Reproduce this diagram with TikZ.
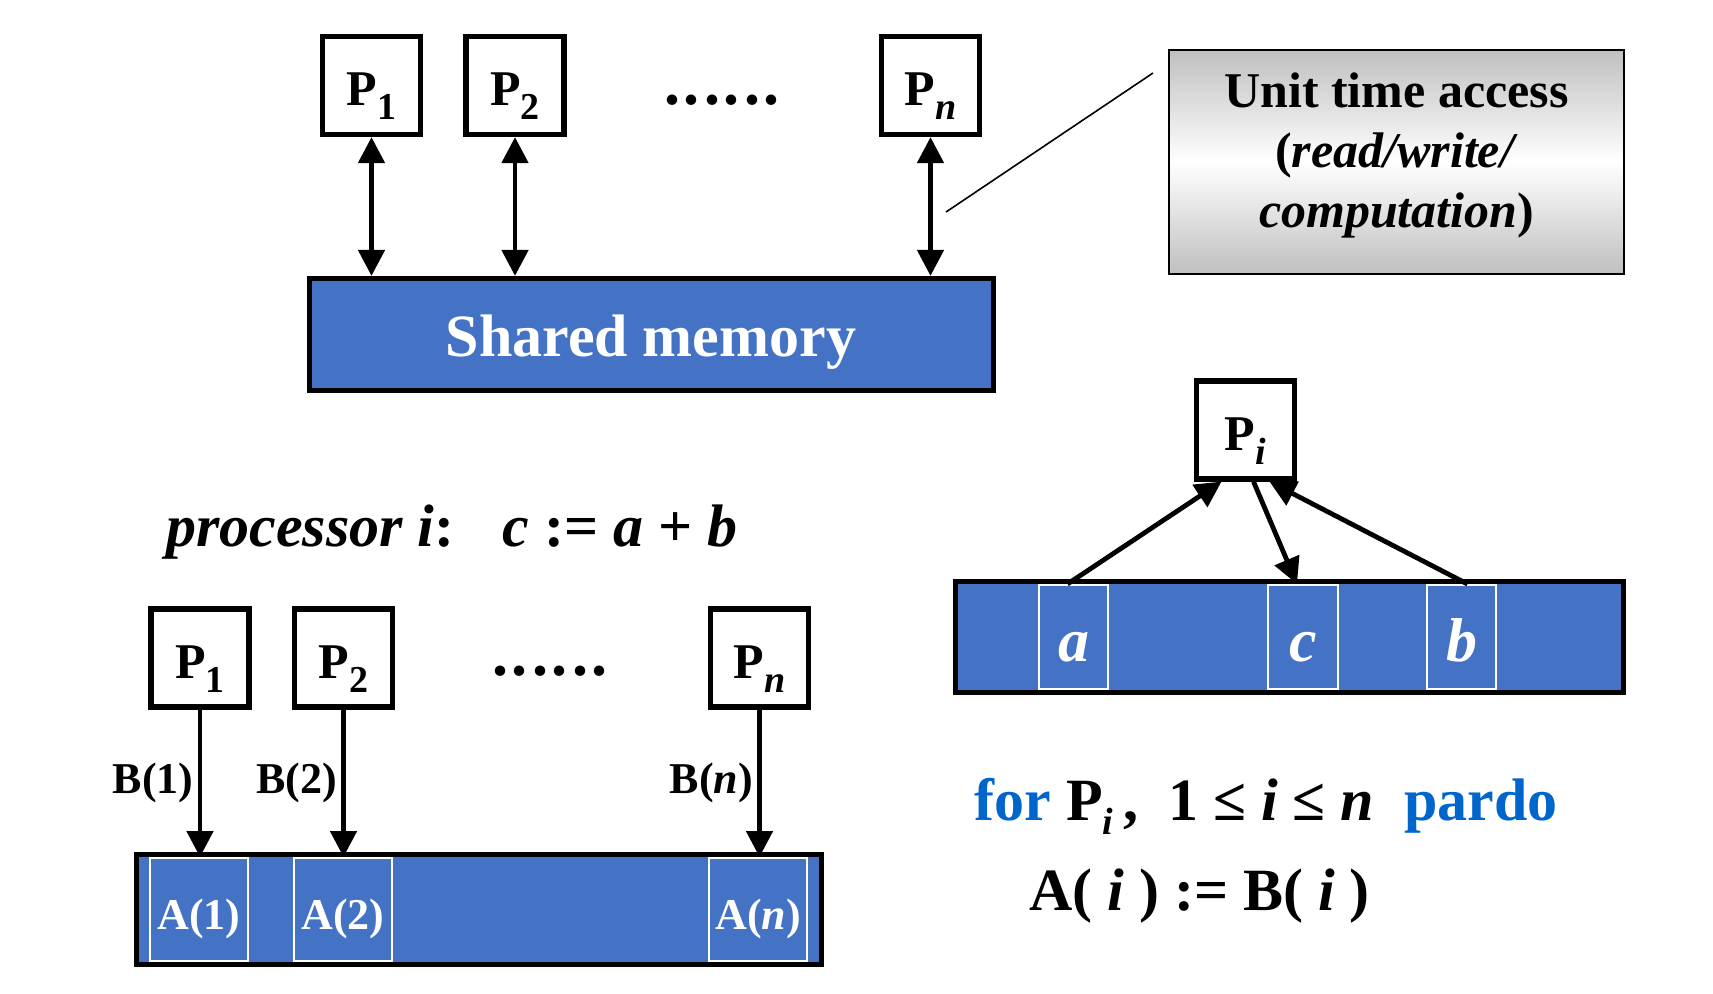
\documentclass[tikz,border=0pt]{standalone}
\usepackage{fontspec}
\setmainfont{Liberation Serif}
\usetikzlibrary{arrows.meta,calc}
\definecolor{memblue}{HTML}{4472C4}
\definecolor{kwblue}{HTML}{0066CC}
\newcommand\psub[1]{\raisebox{-7pt}{\fontsize{19}{19}\selectfont #1}}
\newcommand\dotrow{.\kern2pt.\kern2pt.\kern2pt.\kern2pt.\kern2pt.}
\begin{document}
\begin{tikzpicture}[x=0.5pt,y=-0.5pt,
  pbox/.style={draw, line width=2.6pt, fill=white, minimum width=49pt, minimum height=49pt, inner sep=0pt, font=\fontsize{25}{25}\selectfont\bfseries, text height=20pt, text depth=0pt},
  membar/.style={draw, line width=2.6pt, fill=memblue, inner sep=0pt},
  cellbox/.style={draw=white, line width=1pt, fill=memblue, inner sep=0pt, text=white},
  dblarr/.style={line width=2.4pt, {Triangle[length=13pt,width=13pt]}-{Triangle[length=13pt,width=13pt]}},
  onearr/.style={line width=2.4pt, -{Triangle[length=13pt,width=13pt]}},
  bigtxt/.style={font=\fontsize{30}{30}\selectfont\bfseries, inner sep=0pt},
  lbltxt/.style={font=\fontsize{22}{22}\selectfont\bfseries},
]
\useasboundingbox (0,0) rectangle (1713,993);

% ---------- top part ----------
\node[pbox] (tp1) at (371.5,85.5) {P\psub{1}};
\node[pbox] (tp2) at (515,85.5) {P\psub{2}};
\node[pbox] (tpn) at (930.5,85.5) {P\psub{\itshape n}};
\node[font=\fontsize{32}{32}\selectfont\bfseries, anchor=base] (tdots) at (722,104) {\dotrow};
\node[membar, minimum width=342pt, minimum height=56pt] (mem) at (651.5,334.5) {};
\node[bigtxt, text=white, anchor=base] (memtxt) at (651,356) {Shared memory};
\draw[dblarr] (tp1.south) -- (tp1.south |- mem.north);
\draw[dblarr] (tp2.south) -- (tp2.south |- mem.north);
\draw[dblarr] (tpn.south) -- (tpn.south |- mem.north);

% callout
\node[draw, line width=1pt, minimum width=227.5pt, minimum height=112pt, inner sep=0pt,
      top color=gray!50, bottom color=gray!50, middle color=white] (unit) at (1396.5,162) {};
\node[align=center, font=\fontsize{25}{30}\selectfont\bfseries] (unittxt) at (1396.5,155)
  {Unit time access\\(\textit{read/write/}\\\textit{computation})};
\coordinate (cl1) at (946,212);
\coordinate (cl2) at (1153,73);
\draw[line width=0.8pt] (cl1) -- (cl2);

% ---------- processor i ----------
\node[font=\fontsize{30}{30}\selectfont\bfseries, anchor=base] (proc) at (452,546)
  {\textit{processor i}:\hspace{24pt}\textit{c} := \textit{a} + \textit{b}};

% ---------- right: Pi ----------
\node[pbox] (pi) at (1245.5,430) {P\psub{\itshape i}};
\node[membar, minimum width=334pt, minimum height=55.5pt] (rbar) at (1289.5,637) {};
\tikzset{abc/.style={cellbox, minimum height=52pt, font=\fontsize{31}{31}\selectfont\bfseries\itshape, text height=24pt, text depth=0pt}}
\node[abc, minimum width=34.5pt] (ca) at (1073.5,637) {a};
\node[abc, minimum width=35pt] (cc) at (1303,637) {c};
\node[abc, minimum width=34.5pt] (cb) at (1461.5,637) {b};
\draw[onearr] ([xshift=-3pt]ca.north) -- ([xshift=-12pt]pi.south);
\draw[onearr] ([xshift=4pt]pi.south) -- ([xshift=-3pt]cc.north);
\draw[onearr] ([xshift=3pt]cb.north) -- ([xshift=12pt]pi.south);

% ---------- bottom left ----------
\node[pbox] (lp1) at (200,658) {P\psub{1}};
\node[pbox] (lp2) at (343.5,658) {P\psub{2}};
\node[pbox] (lpn) at (759.5,658) {P\psub{\itshape n}};
\node[font=\fontsize{32}{32}\selectfont\bfseries, anchor=base] (ldots) at (550,675) {\dotrow};
\node[membar, minimum width=342.5pt, minimum height=55pt] (lbar) at (479,909.5) {};
\tikzset{acell/.style={cellbox, minimum width=49pt, minimum height=51.5pt, font=\fontsize{22}{22}\selectfont\bfseries, text height=20pt, text depth=0pt}}
\node[acell] (a1) at (199,909.5) {A(1)};
\node[acell] (a2) at (343,909.5) {A(2)};
\node[acell] (an) at (758,909.5) {A(\textit{n})};
\draw[onearr] (lp1.south) -- (lp1.south |- a1.north) node[midway, left, lbltxt, inner sep=2pt] {B(1)};
\draw[onearr] (lp2.south) -- (lp2.south |- a2.north) node[midway, left, lbltxt, inner sep=2pt] {B(2)};
\draw[onearr] (lpn.south) -- (lpn.south |- an.north) node[midway, left, lbltxt, inner sep=2pt] {B(\textit{n})};

% ---------- bottom right ----------
\node[font=\fontsize{30}{30}\selectfont\bfseries, anchor=base] (forl) at (1266,820)
  {\textcolor{kwblue}{for} P\psub{\itshape i}\,,\ \ 1 ≤ \textit{i} ≤ \textit{n}\ \ \textcolor{kwblue}{pardo}};
\node[font=\fontsize{30}{30}\selectfont\bfseries, anchor=base] (assign) at (1199.5,910)
  {A( \textit{i} ) := B( \textit{i} )};
\end{tikzpicture}
\end{document}
